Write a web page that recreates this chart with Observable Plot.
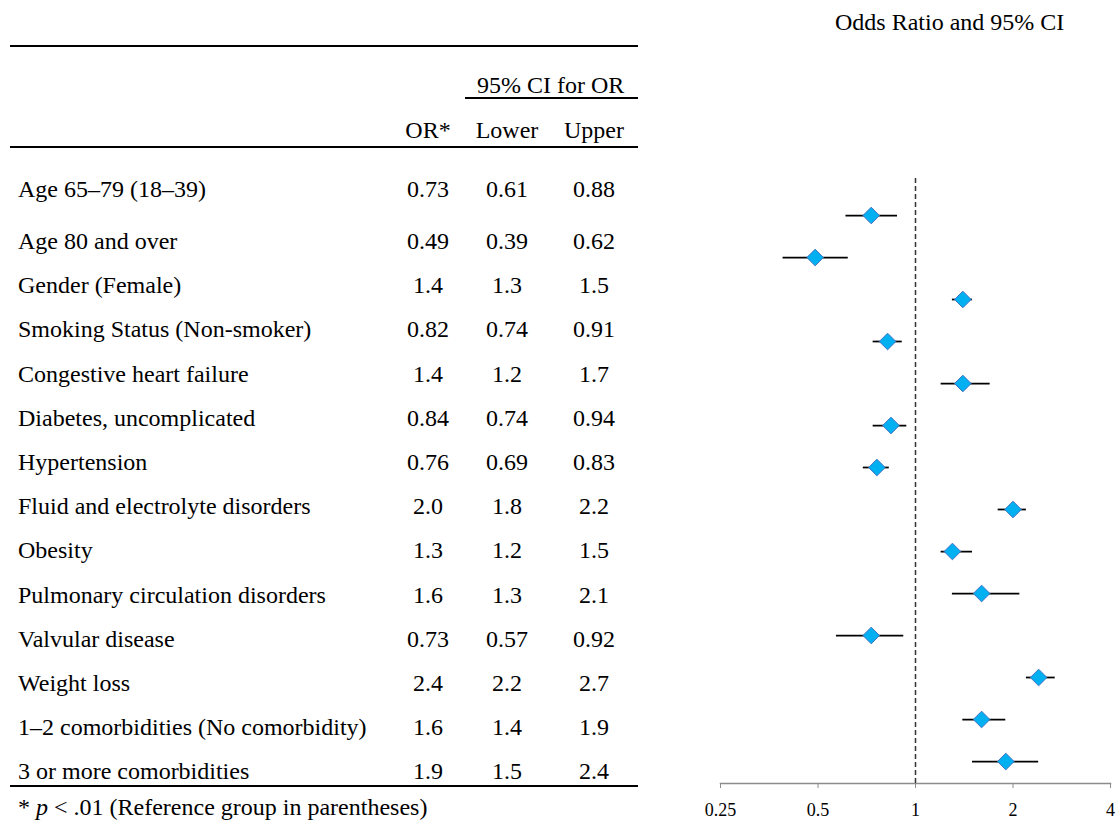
<!DOCTYPE html>
<html>
<head>
<meta charset="utf-8">
<script src="https://cdn.jsdelivr.net/npm/d3@7"></script>
<script src="https://cdn.jsdelivr.net/npm/@observablehq/plot@0.6"></script>
<style>
  html, body { margin: 0; padding: 0; background: #fff; }
  #wrap { position: relative; width: 1120px; height: 830px; font-family: "Liberation Serif", "Times New Roman", serif; font-size: 24px; color: #000; overflow: hidden; }
  .t { position: absolute; line-height: 30px; white-space: nowrap; }
  .c { width: 90px; text-align: center; }
  .rule { position: absolute; background: #000; }
  #plot { position: absolute; left: 690px; top: 0; }
</style>
</head>
<body>
<div id="wrap">
  <div id="plot"></div>
</div>
<script>
// ---- data ----
const labels = [
  "Age 65–79 (18–39)",
  "Age 80 and over",
  "Gender (Female)",
  "Smoking Status (Non-smoker)",
  "Congestive heart failure",
  "Diabetes, uncomplicated",
  "Hypertension",
  "Fluid and electrolyte disorders",
  "Obesity",
  "Pulmonary circulation disorders",
  "Valvular disease",
  "Weight loss",
  "1–2 comorbidities (No comorbidity)",
  "3 or more comorbidities"
];
const oddsRatios = [0.73, 0.49, 1.4, 0.82, 1.4, 0.84, 0.76, 2.0, 1.3, 1.6, 0.73, 2.4, 1.6, 1.9];
const lowerCI    = [0.61, 0.39, 1.3, 0.74, 1.2, 0.74, 0.69, 1.8, 1.2, 1.3, 0.57, 2.2, 1.4, 1.5];
const upperCI    = [0.88, 0.62, 1.5, 0.91, 1.7, 0.94, 0.83, 2.2, 1.5, 2.1, 0.92, 2.7, 1.9, 2.4];
const xTicks = [0.25, 0.5, 1, 2, 4];
const colHeaders = ["OR*", "Lower", "Upper"];
const groupHeader = "95% CI for OR";
const title = "Odds Ratio and 95% CI";

const data = labels.map((label, i) => ({label, or: oddsRatios[i], lower: lowerCI[i], upper: upperCI[i]}));
const fmt = v => Number.isInteger(v) ? v.toFixed(1) : String(v);

// ---- table (HTML) ----
const wrap = document.getElementById("wrap");
function addText(html, left, baseline, cls) {
  const d = document.createElement("div");
  d.className = "t" + (cls ? " " + cls : "");
  d.innerHTML = html;
  d.style.left = left + "px";
  d.style.top = (baseline - 23) + "px";
  wrap.appendChild(d);
  return d;
}
function addRule(left, top, width, h) {
  const d = document.createElement("div");
  d.className = "rule";
  Object.assign(d.style, {left: left + "px", top: top + "px", width: width + "px", height: h + "px"});
  wrap.appendChild(d);
}
const colCenters = [428, 507, 594];
addRule(10, 45, 628, 2);
addText(groupHeader, 477, 93);
addRule(465, 97, 173, 1.6);
colHeaders.forEach((h, j) => addText(h, colCenters[j] - 45, 138, "c"));
addRule(10, 146, 628, 2);
data.forEach((d, i) => {
  const base = i === 0 ? 197 : 249 + (i - 1) * 44.2;
  addText(d.label, 18, base);
  [d.or, d.lower, d.upper].forEach((v, j) => addText(fmt(v), colCenters[j] - 45, base, "c"));
});
addRule(10, 785, 628, 2);
addText("* <i>p</i> &lt; .01 (Reference group in parentheses)", 18, 815);
addText(title, 835, 30);

// ---- forest plot (Observable Plot) ----
const chart = Plot.plot({
  width: 430,
  height: 830,
  marginTop: 178,
  marginBottom: 47,
  marginLeft: 30,
  marginRight: 10,
  style: {fontFamily: "'Liberation Serif', 'Times New Roman', serif", fontSize: "18px", background: "transparent", overflow: "visible", color: "#000"},
  x: {type: "log", base: 2, domain: [0.25, 4], label: null},
  y: {type: "point", domain: labels, padding: 0, insetTop: 36, insetBottom: 21, axis: null},
  marks: [
    Plot.frame({anchor: "bottom", stroke: "#8c8c8c", strokeWidth: 1.5}),
    Plot.axisX({ticks: xTicks, tickFormat: d => String(d), tickSize: 5, tickPadding: 15, stroke: "#8c8c8c", fill: "#000", fontSize: 18, label: null}),
    Plot.ruleX([1], {stroke: "#333", strokeWidth: 1.5, strokeDasharray: "5,3"}),
    Plot.ruleY(data, {y: "label", x1: "lower", x2: "upper", stroke: "#000", strokeWidth: 1.75}),
    Plot.dot(data, {x: "or", y: "label", symbol: "diamond2", r: 7.5, fill: "#00b0f0", stroke: "#4472c4", strokeWidth: 1})
  ]
});
document.getElementById("plot").appendChild(chart);
</script>
</body>
</html>
